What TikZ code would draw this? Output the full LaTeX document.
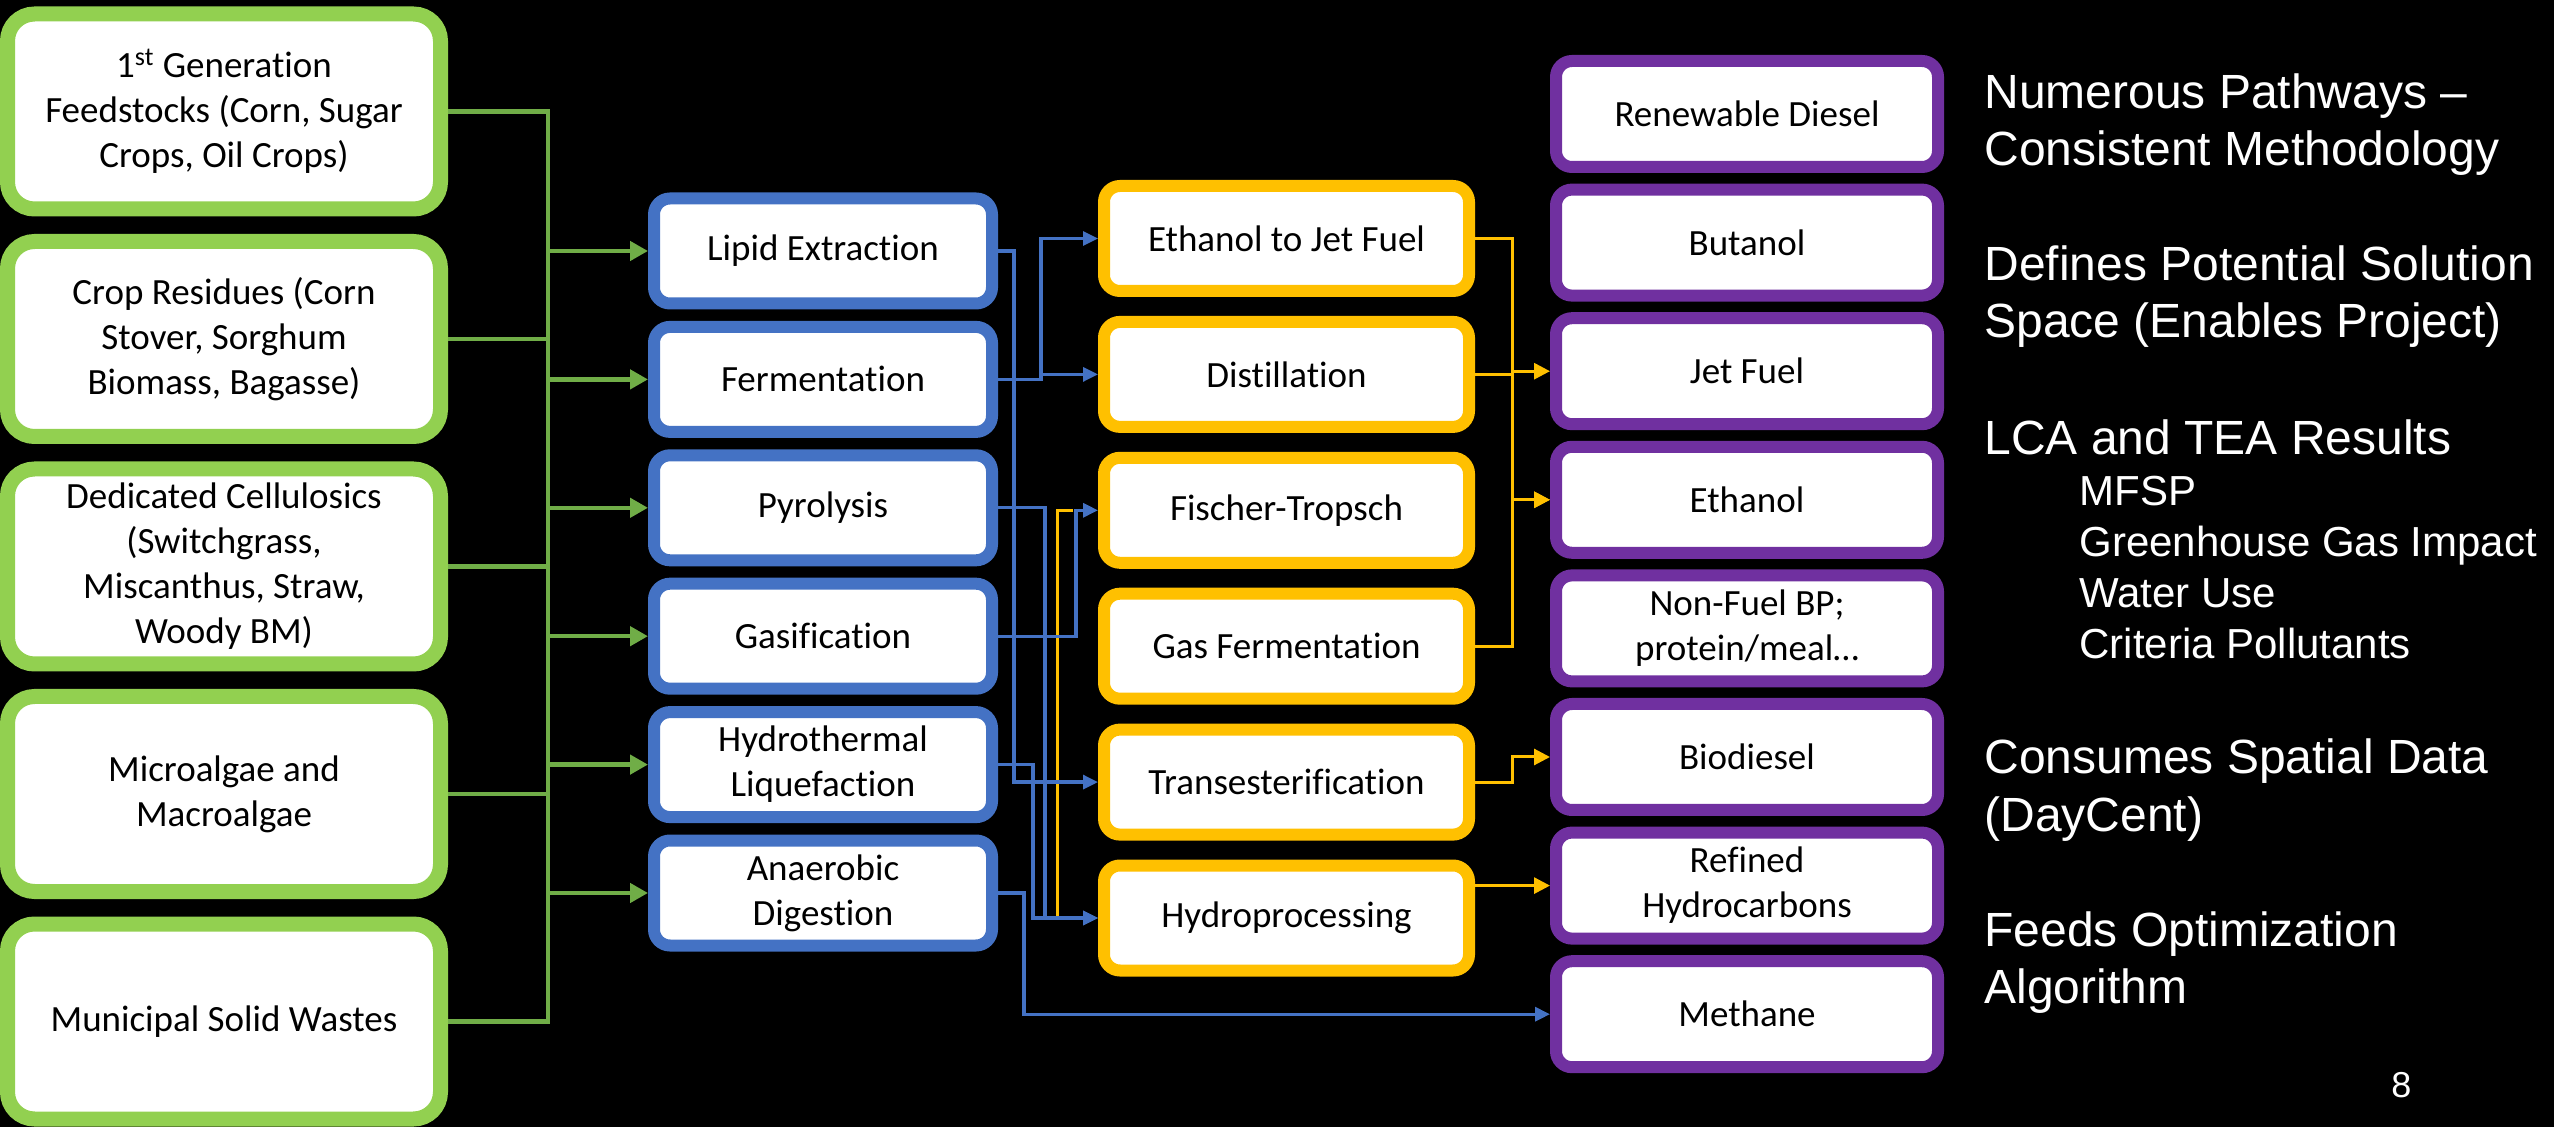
\documentclass[tikz,border=0pt]{standalone}
\usepackage{fontspec}
\setmainfont{Carlito}[Ligatures=NoCommon]
\newfontfamily\notesfont{Liberation Sans}
\usetikzlibrary{positioning, arrows.meta, calc}

\definecolor{feedgreen}{HTML}{92D050}
\definecolor{linkgreen}{HTML}{70AD47}
\definecolor{procblue}{HTML}{4472C4}
\definecolor{convyellow}{HTML}{FFC000}
\definecolor{prodpurple}{HTML}{7030A0}

\begin{document}
\begin{tikzpicture}[x=0.5pt, y=-0.5pt,
    box/.style={draw, fill=white, align=center, inner sep=2pt, text=black,
                font=\fontsize{18.5pt}{22.5pt}\selectfont},
    feed/.style={box, draw=feedgreen, line width=7.5pt, rounded corners=13.5pt,
                 minimum width=216.5pt, minimum height=97.5pt},
    proc/.style={box, draw=procblue, line width=6pt, rounded corners=8pt,
                 minimum width=169pt, minimum height=52.5pt},
    conv/.style={box, draw=convyellow, line width=6pt, rounded corners=8pt,
                 minimum width=182.5pt, minimum height=52.5pt},
    prod/.style={box, draw=prodpurple, line width=6pt, rounded corners=8pt,
                 minimum width=191pt, minimum height=53pt},
    gline/.style={draw=linkgreen, line width=2.25pt},
    garr/.style={gline, -{Triangle[length=9pt, width=9.5pt]}},
    barr/.style={draw=procblue, line width=1.6pt, -{Triangle[length=7.5pt, width=7pt]}},
    yline/.style={draw=convyellow, line width=1.5pt},
    yarr/.style={yline, -{Triangle[length=8pt, width=8pt]}},
    note/.style={text=white, align=left, anchor=base west, inner sep=0pt,
                 font=\notesfont\fontsize{24pt}{28.5pt}\selectfont},
    subnote/.style={note, font=\notesfont\fontsize{21pt}{25.5pt}\selectfont}
  ]
    \fill[black] (0,0) rectangle (2554,1127);
    \useasboundingbox (0,0) rectangle (2554,1127);
    % Feedstocks
    \node[feed] (first) at (224,111.5) {1\textsuperscript{st} Generation\\Feedstocks (Corn, Sugar\\Crops, Oil Crops)};
    \node[feed, below=8.75pt of first] (resid) {Crop Residues (Corn\\Stover, Sorghum\\Biomass, Bagasse)};
    \node[feed, below=8.75pt of resid] (cellu) {Dedicated Cellulosics\\(Switchgrass,\\Miscanthus, Straw,\\Woody BM)};
    \node[feed, below=8.75pt of cellu] (algae) {Microalgae and\\Macroalgae};
    \node[feed, below=8.75pt of algae] (msw) {Municipal Solid Wastes};
    % Conversion processes
    \node[proc] (lipid) at (823,251) {Lipid Extraction};
    \node[proc, below=5.7pt of lipid] (ferm) {Fermentation};
    \node[proc, below=5.7pt of ferm] (pyro) {Pyrolysis};
    \node[proc, below=5.7pt of pyro] (gasif) {Gasification};
    \node[proc, below=5.7pt of gasif] (htl) {Hydrothermal\\Liquefaction};
    \node[proc, below=5.7pt of htl] (anaer) {Anaerobic\\Digestion};
    % Upgrading
    \node[conv] (etj) at (1286.5,238.5) {Ethanol to Jet Fuel};
    \node[conv, below=9.45pt of etj] (distil) {Distillation};
    \node[conv, below=9.45pt of distil] (ftrop) {Fischer-Tropsch};
    \node[conv, below=9.45pt of ftrop] (gasferm) {Gas Fermentation};
    \node[conv, below=9.45pt of gasferm] (trans) {Transesterification};
    \node[conv, below=9.45pt of trans] (hydro) {Hydroprocessing};
    % Products
    \node[prod] (rdiesel) at (1747,114) {Renewable Diesel};
    \node[prod, below=5.3pt of rdiesel] (butanol) {Butanol};
    \node[prod, below=5.3pt of butanol] (jetfuel) {Jet Fuel};
    \node[prod, below=5.3pt of jetfuel] (ethanol) {Ethanol};
    \node[prod, below=5.3pt of ethanol] (nonfuel) {Non-Fuel BP;\\protein/meal…};
    \node[prod, below=5.3pt of nonfuel] (biodiesel) {Biodiesel};
    \node[prod, below=5.3pt of biodiesel] (refined) {Refined\\Hydrocarbons};
    \node[prod, below=5.3pt of refined] (methane) {Methane};
    % Feedstock bus
    \draw[gline] (first.east) -- ++(100,0) |- (msw.east);
    \draw[gline] (resid.east) -- ++(100,0);
    \draw[gline] (cellu.east) -- ++(100,0);
    \draw[gline] (algae.east) -- ++(100,0);
    \draw[garr] ($(lipid.west)+(-100,0)$) -- (lipid.west);
    \draw[garr] ($(ferm.west)+(-100,0)$) -- (ferm.west);
    \draw[garr] ($(pyro.west)+(-100,0)$) -- (pyro.west);
    \draw[garr] ($(gasif.west)+(-100,0)$) -- (gasif.west);
    \draw[garr] ($(htl.west)+(-100,0)$) -- (htl.west);
    \draw[garr] ($(anaer.west)+(-100,0)$) -- (anaer.west);
    % Process to upgrading
    \draw[yline] ($(ftrop.west)+(-25,0)$) -| ($(hydro.west)+(-41,0)$);
    \draw[barr] (lipid.east) -- ++(16,0) |- (trans.west);
    \draw[barr] (ferm.east) -- ++(43,0) |- (etj.west);
    \draw[barr] (ferm.east) -- ++(43,0) |- (distil.west);
    \draw[barr] (pyro.east) -- ++(47,0) |- (hydro.west);
    \draw[barr] (gasif.east) -- ++(78,0) |- (ftrop.west);
    \draw[barr] (htl.east) -- ++(35,0) |- (hydro.west);
    \draw[barr] (anaer.east) -- ++(26,0) |- (methane.west);
    % Upgrading to products
    \draw[yarr] (etj.east) -- ++(37,0) |- (jetfuel.west);
    \draw[yarr] (distil.east) -- ++(37,0) |- (ethanol.west);
    \draw[yarr] (gasferm.east) -- ++(37,0) |- (ethanol.west);
    \draw[yarr] (trans.east) -- ++(37,0) |- (biodiesel.west);
    \draw[yarr] (hydro.east |- refined.west) -- (refined.west);
    % Notes (base = last line)
    \node[note] (paths) at (1984,166) {Numerous Pathways –\\Consistent Methodology};
    \node[note] (space) at (1984,338) {Defines Potential Solution\\Space (Enables Project)};
    \node[note] (lcatea) at (1984,455) {LCA and TEA Results};
    \node[subnote] (results) at (2079,659) {MFSP\\Greenhouse Gas Impact\\Water Use\\Criteria Pollutants};
    \node[note] (spatial) at (1984,831) {Consumes Spatial Data\\(DayCent)};
    \node[note] (optim) at (1984,1003) {Feeds Optimization\\Algorithm};
    \node[note, font=\notesfont\fontsize{18pt}{20pt}\selectfont] (pagenum) at (2391,1097) {8};
  \end{tikzpicture}
\end{document}
